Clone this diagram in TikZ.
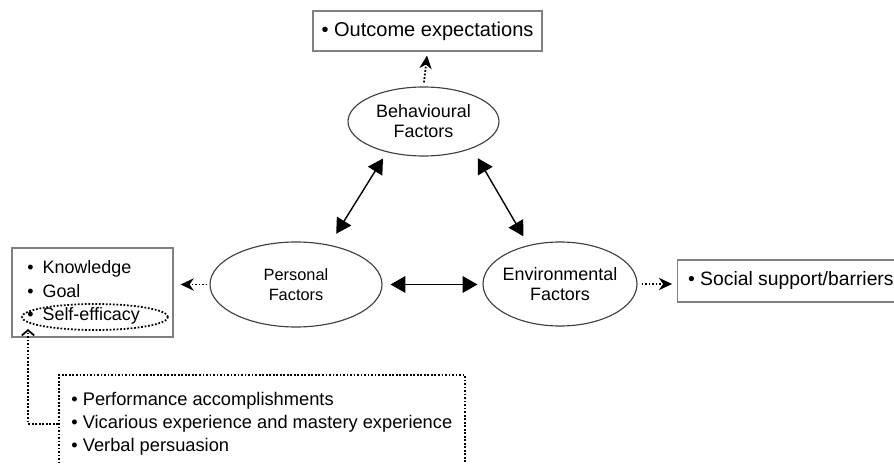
\documentclass[tikz,border=0pt]{standalone}
\usepackage{fontspec}
\setmainfont{Liberation Sans}
\usetikzlibrary{arrows.meta}
\usetikzlibrary{shapes.geometric}
\usetikzlibrary{positioning}

\begin{document}
\begin{tikzpicture}[x=0.2mm, y=-0.2mm,
    factor/.style={ellipse, draw=black!75, line width=0.65pt, inner xsep=-6pt, inner ysep=0pt,
      align=center, font=\fontsize{10.2}{11.4}\selectfont},
    listbox/.style={rectangle, draw=black!50, line width=0.65pt},
    dotline/.style={line width=1pt, dash pattern=on 1pt off 1pt},
    dotbox/.style={rectangle, draw=black, dotline},
    dotarrow/.style={dotline, -{Stealth[length=7.5pt, width=7pt, inset=2.4pt]}},
    both/.style={line width=0.8pt, {Triangle[length=8.5pt, width=9.5pt]}-{Triangle[length=8.5pt, width=9.5pt]}},
    item/.style={anchor=base west, inner sep=0pt, font=\fontsize{10.4}{12}\selectfont},
  ]
  \useasboundingbox (0, 0) rectangle (894, 464);

  % factors
  \node [factor, minimum width=30.2mm, minimum height=13.8mm] (behav) at (423.5, 121.5) {Behavioural\\Factors};
  \node [factor, minimum width=34.4mm, minimum height=17mm, font=\fontsize{9.3}{11.4}\selectfont] (personal) at (296, 284.5) {Personal\\Factors};
  \node [factor, minimum width=30.8mm, minimum height=16.8mm] (environ) at (560, 284) {Environmental\\Factors};

  \draw [both, shorten <=7.4pt, shorten >=4.2pt] (personal.50) -- (behav.-140.5);
  \draw [both, shorten <=6.4pt, shorten >=5.8pt] (behav.-29.2) -- (environ.129.9);
  \draw [both, shorten <=4.5pt, shorten >=2.8pt] (personal.east) -- (personal.east -| environ.west);

  % outcome and social boxes
  \node [listbox, minimum width=45.8mm, minimum height=8mm, font=\fontsize{11.4}{13}\selectfont] (outcome) at (427.5, 31) {• Outcome expectations};
  \draw [dotarrow, shorten <=2.3pt, shorten >=2.3pt] (behav.north) -- (outcome.south);

  \node [listbox, anchor=west, minimum height=8.4mm, inner xsep=6pt, font=\fontsize{11}{13}\selectfont] (social) at (677, 281) {• Social support/barriers};
  \draw [dotarrow, shorten <=2.3pt, shorten >=2.8pt] (environ.east) -- (environ.east -| social.west);

  % personal factors list
  \node [listbox, minimum width=32.2mm, minimum height=17.8mm] (knowbox) at (92.5, 292.5) {};
  \foreach \t/\y [count=\i] in {Knowledge/274, Goal/298, Self-efficacy/320}
    \node [item, font=\fontsize{10.2}{12}\selectfont] (k\i) at (27, \y) {•\enspace\t};
  \node [ellipse, draw, dotline, minimum width=29.2mm, minimum height=5.2mm, inner sep=0pt] (selfeff) at (95, 317) {};
  \draw [dotarrow, shorten <=1.1pt, shorten >=4pt] (personal.west) -- (personal.west -| knowbox.east);

  % sources of self-efficacy
  \node [dotbox, minimum width=81.2mm, minimum height=22mm] (sources) at (262, 430) {};
  \foreach \t/\y [count=\i] in {Performance accomplishments/405.5,
      Vicarious experience and mastery experience/428.5, Verbal persuasion/451.5}
    \node [item] (s\i) at (71, \y) {• \t};
  \coordinate (efftip) at (28, 329);
  \draw [dotline, -{Straight Barb[length=3pt, width=7pt]}] (sources.west |- s2) -| (efftip);
\end{tikzpicture}
\end{document}
